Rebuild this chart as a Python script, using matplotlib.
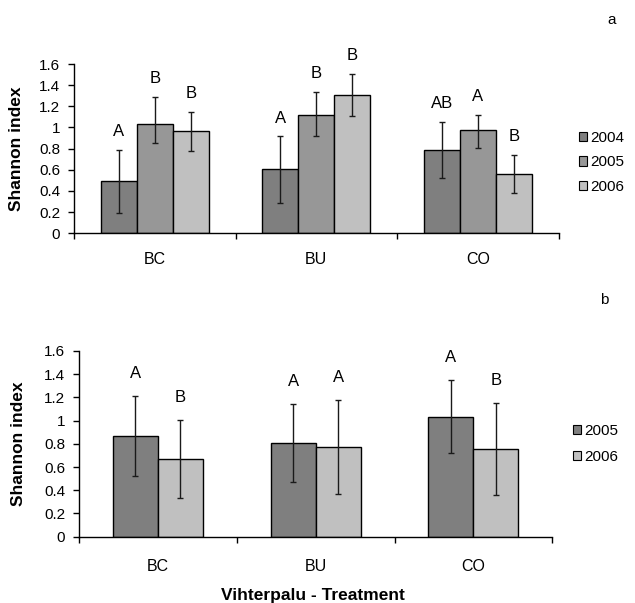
import matplotlib
matplotlib.use("Agg")
import matplotlib.pyplot as plt
import numpy as np
from matplotlib.patches import Patch

plt.rcParams['font.family'] = ['Liberation Sans', 'DejaVu Sans']

categories = ["BC", "BU", "CO"]
ytick_labels = ["0", "0.2", "0.4", "0.6", "0.8", "1", "1.2", "1.4", "1.6"]
ytick_values = [0, 0.2, 0.4, 0.6, 0.8, 1.0, 1.2, 1.4, 1.6]

# Panel a
years_a = ["2004", "2005", "2006"]
means_a = {
    "2004": [0.49, 0.605, 0.79],
    "2005": [1.03, 1.12, 0.98],
    "2006": [0.97, 1.31, 0.56],
}
err_lo_a = {
    "2004": [0.30, 0.32, 0.265],
    "2005": [0.18, 0.20, 0.175],
    "2006": [0.19, 0.205, 0.175],
}
err_hi_a = {
    "2004": [0.30, 0.31, 0.265],
    "2005": [0.26, 0.215, 0.14],
    "2006": [0.18, 0.20, 0.18],
}
letters_a = {
    "2004": ["A", "A", "AB"],
    "2005": ["B", "B", "A"],
    "2006": ["B", "B", "B"],
}

# Panel b
years_b = ["2005", "2006"]
means_b = {
    "2005": [0.865, 0.805, 1.035],
    "2006": [0.672, 0.773, 0.753],
}
err_b = {
    "2005": [0.345, 0.335, 0.315],
    "2006": [0.335, 0.405, 0.395],
}
letters_b = {
    "2005": ["A", "A", "A"],
    "2006": ["B", "A", "B"],
}

colors = {"2004": "#7f7f7f", "2005": "#979797", "2006": "#c0c0c0"}
colors_b = {"2005": "#7f7f7f", "2006": "#c0c0c0"}

W, H = 635, 603
fig = plt.figure(figsize=(W / 100, H / 100), dpi=100)

TICK_FS = 11
CAT_FS = 11.5
LET_FS = 12
LEG_FS = 11

def px_axes(left, right, top, bottom):
    return fig.add_axes([left / W, (H - bottom) / H, (right - left) / W, (bottom - top) / H])

def style_axes(ax, cat_off, ylab_x):
    ax.set_xlim(-0.5, 2.5)
    ax.set_ylim(0, 1.6)
    ax.spines['top'].set_visible(False)
    ax.spines['right'].set_visible(False)
    ax.spines['left'].set_linewidth(1.0)
    ax.spines['bottom'].set_linewidth(1.0)
    ax.set_yticks(ytick_values)
    ax.set_yticklabels(ytick_labels, fontsize=TICK_FS)
    ax.tick_params(axis='y', direction='out', length=4, width=1, pad=6)
    ax.set_xticks([-0.5, 0.5, 1.5, 2.5])
    ax.set_xticklabels([])
    ax.tick_params(axis='x', direction='out', length=4.5, width=1)
    for i, c in enumerate(categories):
        ax.annotate(c, (i, 0), xytext=(0, -cat_off), textcoords='offset points',
                    ha='center', va='center', fontsize=CAT_FS, annotation_clip=False)
    ax.set_ylabel("Shannon index", fontsize=12.5, fontweight='bold')
    ax.yaxis.set_label_coords(ylab_x, 0.5)

# ---- Panel a ----
ax1 = px_axes(74, 558.7, 64, 233.3)
x = np.arange(len(categories))
bw = 0.223
for k, yr in enumerate(years_a):
    xs = x + (k - 1) * bw
    ax1.bar(xs, means_a[yr], width=bw, color=colors[yr], edgecolor='black',
            linewidth=1.0, zorder=2)
    ax1.errorbar(xs, means_a[yr], yerr=[err_lo_a[yr], err_hi_a[yr]], fmt='none',
                 ecolor='#1a1a1a', elinewidth=1.0, capsize=2.5, capthick=1.0, zorder=3)
    for xi, m, e, t in zip(xs, means_a[yr], err_hi_a[yr], letters_a[yr]):
        ax1.annotate(t, (xi, m + e), xytext=(0, 10), textcoords='offset points',
                     ha='center', va='baseline', fontsize=LET_FS)
style_axes(ax1, 19, (24 - 74) / 484.7)

handles_a = [Patch(facecolor=colors[y], edgecolor='black', linewidth=0.8) for y in years_a]
fig.legend(handles_a, years_a, loc='upper left',
           bbox_to_anchor=(579 / W, (H - 131) / H), frameon=False, fontsize=LEG_FS,
           handlelength=0.55, handleheight=0.55, handletextpad=0.2,
           labelspacing=0.68, borderpad=0, borderaxespad=0)

fig.text(611.7 / W, 1 - 20 / H, "a", ha='center', va='center', fontsize=11)

# ---- Panel b ----
ax2 = px_axes(79, 552.3, 351, 536.7)
bw2 = 0.285
for k, yr in enumerate(years_b):
    xs = x + (k - 0.5) * bw2
    ax2.bar(xs, means_b[yr], width=bw2, color=colors_b[yr], edgecolor='black',
            linewidth=1.0, zorder=2)
    ax2.errorbar(xs, means_b[yr], yerr=err_b[yr], fmt='none',
                 ecolor='#1a1a1a', elinewidth=1.0, capsize=2.5, capthick=1.0, zorder=3)
    for xi, m, e, t in zip(xs, means_b[yr], err_b[yr], letters_b[yr]):
        ax2.annotate(t, (xi, m + e), xytext=(0, 13), textcoords='offset points',
                     ha='center', va='baseline', fontsize=LET_FS)
style_axes(ax2, 21.5, (26 - 79) / 473.3)
ax2.annotate("Vihterpalu - Treatment", (0.985, 0), xytext=(0, -42), textcoords='offset points',
             ha='center', va='center', fontsize=12.5, fontweight='bold',
             annotation_clip=False)

handles_b = [Patch(facecolor=colors_b[y], edgecolor='black', linewidth=0.8) for y in years_b]
fig.legend(handles_b, years_b, loc='upper left',
           bbox_to_anchor=(572.5 / W, (H - 424) / H), frameon=False, fontsize=LEG_FS,
           handlelength=0.55, handleheight=0.55, handletextpad=0.2,
           labelspacing=0.8, borderpad=0, borderaxespad=0)

fig.text(604 / W, 1 - 300 / H, "b", ha='center', va='center', fontsize=11)

fig.savefig("out.png", dpi=100)
